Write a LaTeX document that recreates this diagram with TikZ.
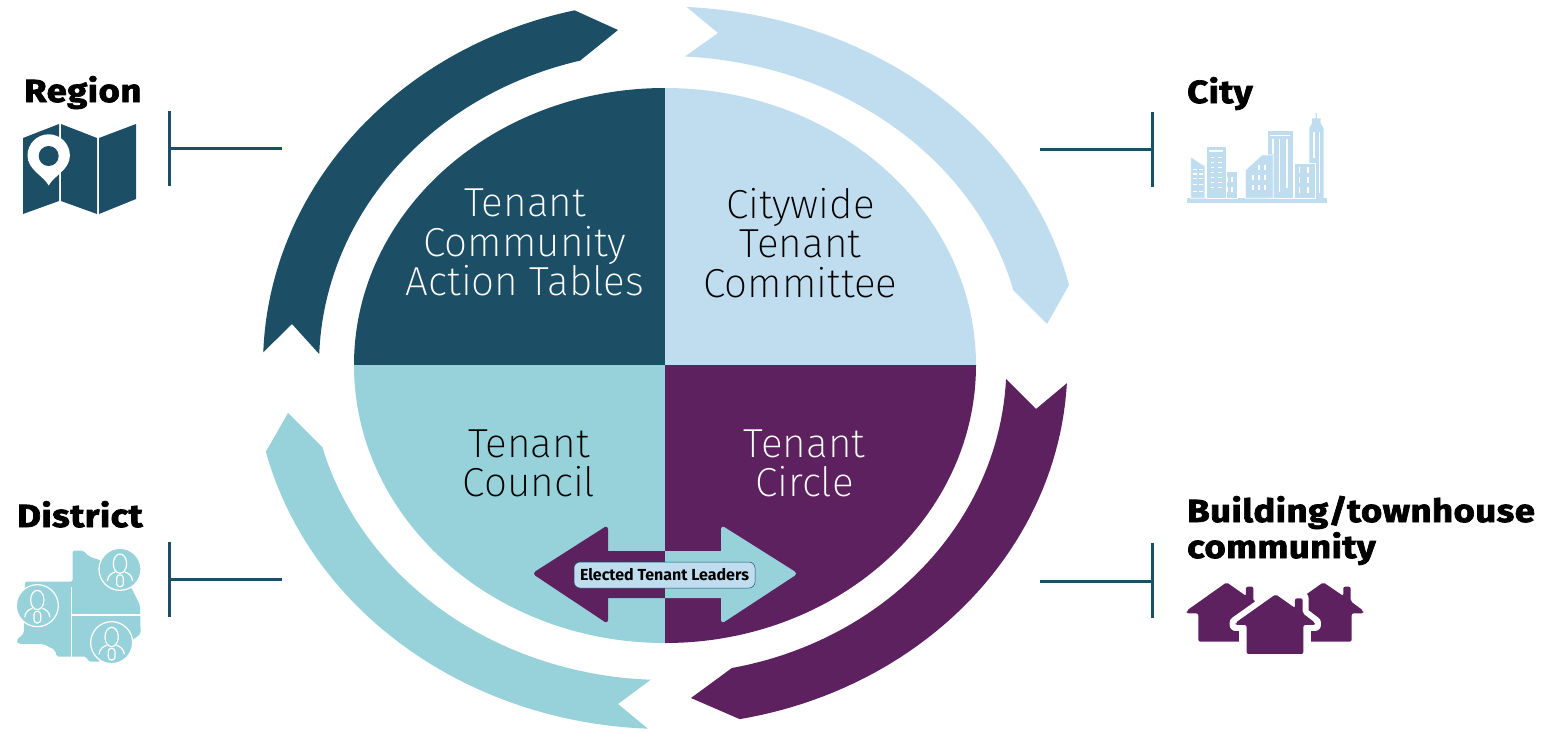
\documentclass[tikz,border=0pt]{standalone}
\usepackage{fontspec}
\setmainfont{Fira Sans}
\definecolor{navy}{HTML}{1C4F66}
\definecolor{sky}{HTML}{BFDDEF}
\definecolor{teal}{HTML}{97D2DB}
\definecolor{plum}{HTML}{5C215E}
\newfontfamily\lightf{Fira Sans ExtraLight}
\newfontfamily\heavyf[FakeBold=2.2,FakeStretch=1.14,LetterSpace=1.5]{Fira Sans Bold}
\newfontfamily\boldf{Fira Sans Bold}
\tikzset{
 ptx/.style={font=\lightf\fontsize{40.5}{39.5}\selectfont,align=center,inner sep=0pt},
 lvl/.style={font=\heavyf\fontsize{32}{36}\selectfont,inner sep=0pt,anchor=base west,text=black},
 tickline/.style={draw=navy,line width=3pt},
 win/.style={fill=white,draw=none},
 personline/.style={draw=white,line width=1.2pt,fill=none}
}
% elliptical edge: rx, ry, start, end
\newcommand{\earc}[4]{-- plot[domain=#3:#4,samples=50] ({665+#1*cos(\x)},{365+#2*sin(\x)})}
\newcommand{\personat}[2]{% x y (zoom units)
 \fill[teal,draw=white,line width=1.2pt] (#1,#2) circle[radius=63];
 \draw[personline] (#1,#2-17) ellipse[x radius=20,y radius=29];
 \draw[personline] (#1-38,#2+35) .. controls (#1-36,#2+18) and (#1-26,#2+12) .. (#1-15,#2+8);
 \draw[personline] (#1+38,#2+35) .. controls (#1+36,#2+18) and (#1+26,#2+12) .. (#1+15,#2+8);
 \draw[personline,rounded corners=3pt] (#1-10,#2+17) rectangle (#1+10,#2+52);
}
\begin{document}
\begin{tikzpicture}[x=1pt,y=-1pt]
\useasboundingbox (0,0) rectangle (1545,731);
\fill[white] (0,0) rectangle (1545,731);
% quadrants
\fill[navy] (665,365) -- (354,365) arc[start angle=180,end angle=270,x radius=311,y radius=277] -- cycle;
\fill[sky]  (665,365) -- (976,365) arc[start angle=360,end angle=270,x radius=311,y radius=277] -- cycle;
\fill[teal] (665,365) -- (354,365) arc[start angle=180,end angle=90,x radius=311,y radius=278] -- cycle;
\fill[plum] (665,365) -- (976,365) arc[start angle=0,end angle=90,x radius=311,y radius=278] -- cycle;
% ring arrows
\fill[navy] (292,324) \earc{346}{314}{182}{255.8} -- (618,30) \earc{402}{364}{257}{182} -- cycle;
\fill[sky] (718,33) \earc{359}{309}{273.2}{346} -- (1047,324) \earc{414.5}{358.5}{347.1}{273} -- cycle;
\fill[teal] (618,704) \earc{411}{364}{92.4}{166.2} -- (288,413) \earc{355}{315}{164.9}{92.3} -- cycle;
\fill[plum] (1036,409) \earc{402.4}{360.4}{2.9}{79.3} -- (691,698) \earc{341.4}{309}{78.7}{2.6} -- cycle;
% quadrant labels
\node[ptx,text=white] (tcat) at (525,242.5) {Tenant\\Community\\Action Tables};
\node[ptx,text=black] (ctc) at (800.5,243) {Citywide\\Tenant\\Committee};
\node[ptx,text=black] (tco) at (529,463.5) {Tenant\\Council};
\node[ptx,text=white] (tci) at (804.5,463.5) {Tenant\\Circle};
% central double arrow
\fill[plum] (665,551) -- (608,551) [rounded corners=4pt] -- (608,525) -- (532,573.5) -- (608,624) [sharp corners] -- (608,598) -- (665,598) -- cycle;
\fill[teal] (665,551) -- (721,551) [rounded corners=4pt] -- (721,525) -- (798,573.5) -- (721,624) [sharp corners] -- (721,598) -- (665,598) -- cycle;
\node[draw=navy,line width=.5pt,fill=sky,rounded corners=6pt,minimum width=181pt,minimum height=26pt,inner sep=0pt,font=\boldf\fontsize{16}{18}\selectfont,text=black] (etl) at (664.5,575) {Elected Tenant Leaders};
% level labels
\node[lvl] (region) at (24,102) {Region};
\node[lvl] (city) at (1187,103) {City};
\node[lvl] (district) at (17,527) {District};
\node[lvl] (bld) at (1187,522) {Building/townhouse};
\node[lvl] (comm) at (1187,558) {community};
% ticks
\coordinate (r1) at (169,111); \coordinate (r2) at (169,186); \coordinate (r3) at (169,148); \coordinate (r4) at (282,148);
\coordinate (c1) at (1152,112); \coordinate (c2) at (1152,187); \coordinate (c3) at (1152,149); \coordinate (c4) at (1040,149);
\coordinate (d1) at (169,542); \coordinate (d2) at (169,617); \coordinate (d3) at (169,579); \coordinate (d4) at (282,579);
\coordinate (b1) at (1152,543); \coordinate (b2) at (1152,618); \coordinate (b3) at (1152,581); \coordinate (b4) at (1040,581);
\draw[tickline] (r1) -- (r2) (r3) -- (r4) (c1) -- (c2) (c3) -- (c4) (d1) -- (d2) (d3) -- (d4) (b1) -- (b2) (b3) -- (b4);
% map icon
\fill[navy] (23,138) -- (59,124) -- (59,201) -- (23,214) -- cycle;
\fill[navy] (61,124) -- (97,138) -- (97,214) -- (61,201) -- cycle;
\fill[navy] (99,138) -- (136,124) -- (136,199) -- (99,214) -- cycle;
\fill[white] (48.7,185.5) .. controls (44,176) and (27.5,170) .. (27.5,155.5) arc[start angle=180,end angle=360,radius=21.2] .. controls (69.9,170) and (53.4,176) .. (48.7,185.5) -- cycle;
\fill[navy] (48.7,156) circle[radius=10];
% city icon
\begin{scope}[shift={(1030,60)},x=0.3333pt,y=-0.3333pt]
 \fill[sky] (470,415) rectangle (890,428);
 \fill[sky] (838,415) -- (838,205) -- (846,190) -- (846,175) -- (857,175) -- (857,160) -- (861,160) -- (861,175) -- (872,175) -- (872,190) -- (881,205) -- (881,415) -- cycle;
 \fill[sky,draw=white,line width=.8pt] (482,415) -- (482,290) -- (525,318) -- (525,415) -- cycle;
 \fill[sky,draw=white,line width=.8pt] (575,415) rectangle (622,335);
 \fill[sky,draw=white,line width=.8pt] (528,415) rectangle (588,260);
 \fill[sky,draw=white,line width=.8pt] (712,415) rectangle (790,210);
 \fill[sky,draw=white,line width=.8pt] (646,415) -- (646,330) -- (695,285) -- (730,285) -- (730,415) -- cycle;
 \fill[sky,draw=white,line width=.8pt] (792,415) rectangle (855,310);
 % windows
 \foreach \y in {326,340,354,372,392} {\fill[win] (489,\y) rectangle (502,\y+4); \fill[win] (506,\y) rectangle (519,\y+4);}
 \foreach \y in {290,305,320,336,350,365,380} {\fill[win] (542,\y) rectangle (553,\y+4); \fill[win] (563,\y) rectangle (576,\y+4);}
 \fill[win] (536,270) rectangle (580,275);
 \foreach \x in {588,604} \foreach \y in {350,380} \fill[win] (\x,\y) rectangle (\x+5,\y+16);
 \foreach \x in {685,702} \foreach \y in {315,345,375} \fill[win] (\x,\y) rectangle (\x+5,\y+16);
 \foreach \y in {345,375} \fill[win] (666,\y) rectangle (671,\y+16);
 \fill[win] (720,224) rectangle (780,229);
 \fill[win] (726,238) rectangle (731,283);
 \fill[win] (746,238) rectangle (751,395);
 \fill[win] (768,238) rectangle (773,385);
 \foreach \x in {806,832} \foreach \y in {322,350,380} \fill[win] (\x,\y) rectangle (\x+5,\y+18);
 \fill[win] (850,215) rectangle (854,295);
 \fill[win] (866,215) rectangle (870,400);
\end{scope}
% district icon
\begin{scope}[shift={(0,490)},x=0.3333pt,y=-0.3333pt]
 \fill[teal,rounded corners=2pt] (218,182) -- (250,182) -- (268,200) -- (300,210) -- (395,295) -- (420,345) -- (422,432) -- (400,448) -- (300,515) -- (265,515) -- (260,500) -- (170,500) -- (165,480) -- (130,462) -- (55,462) -- (48,452) -- (72,430) -- (72,400) -- (75,275) -- (218,275) -- cycle;
 \draw[draw=white,line width=1.6pt] (214,292) -- (214,502) (214,375) -- (424,375);
 \personat{360}{238}
 \personat{112}{347}
 \personat{335}{458}
\end{scope}
% houses
\begin{scope}[shift={(1030,490)},x=0.3333pt,y=-0.3333pt]
 \fill[plum,rounded corners=2pt] (590,277) -- (648,318) -- (648,290) -- (670,290) -- (670,334) -- (760,362) -- (760,455) -- (505,455) -- (505,370) -- (470,370) -- (470,362) -- cycle;
 \fill[plum,rounded corners=2pt] (880,277) -- (940,318) -- (940,290) -- (962,290) -- (962,334) -- (1000,362) -- (1000,370) -- (965,370) -- (965,455) -- (760,455) -- (760,362) -- cycle;
 \draw[white,line width=12pt,line join=round,fill=white] (737,313) -- (795,354) -- (795,325) -- (818,325) -- (818,370) -- (855,398) -- (855,405) -- (820,405) -- (820,470) -- (650,470) -- (650,405) -- (617,405) -- (617,398) -- cycle;
 \fill[white] (628,420) rectangle (843,530);
 \fill[plum,rounded corners=2pt] (737,313) -- (795,354) -- (795,325) -- (818,325) -- (818,370) -- (855,398) -- (855,405) -- (820,405) -- (820,492) -- (650,492) -- (650,405) -- (617,405) -- (617,398) -- cycle;
\end{scope}
\end{tikzpicture}
\end{document}
